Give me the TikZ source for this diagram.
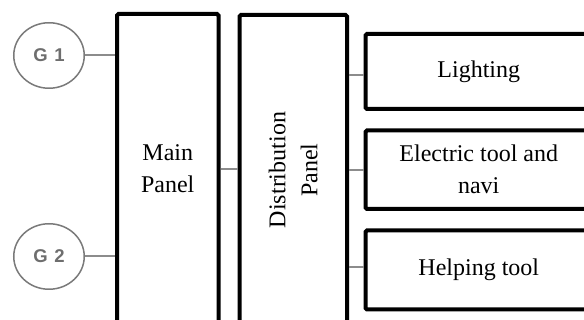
\documentclass[tikz,border=0pt]{standalone}
\usepackage{fontspec}
\setmainfont{Liberation Serif}
\newfontfamily\gfont{Liberation Sans}
\usetikzlibrary{shapes.geometric}
\definecolor{wiregray}{HTML}{8C8C8C}
\definecolor{circgray}{HTML}{7A7A7A}
\definecolor{gtext}{HTML}{6E6E6E}
\begin{document}
\begin{tikzpicture}[x=1pt,y=-1pt,
  panel/.style={draw=black, line width=4pt, rounded corners=1.5pt, inner sep=0pt,
    font=\fontsize{24}{32}\selectfont, align=center},
  gen/.style={ellipse, draw=circgray, line width=1.5pt, inner sep=0pt,
    minimum width=70.5pt, minimum height=65.5pt, text=gtext,
    font=\gfont\bfseries\fontsize{18.5}{20}\selectfont},
  wire/.style={draw=wiregray, line width=2pt}]
\useasboundingbox (0,0) rectangle (584,320);
\clip (0,0) rectangle (584,320);
\node[gen] (g1) at (49,55.5) {G\hspace{0.35em}1};
\node[gen] (g2) at (49,256.5) {G\hspace{0.35em}2};
\node[panel, minimum width=101.5pt, minimum height=310pt] (main) at (167.75,169) {Main\\Panel};
\node[panel, minimum width=107.5pt, minimum height=310pt] (dist) at (293.25,170) {};
\node[font=\fontsize{24}{32}\selectfont, align=center, rotate=90] (distlabel) at (dist.center) {Distribution\\Panel};
\node[panel, minimum width=226.5pt, minimum height=75pt] (light) at (478.75,71.5) {Lighting};
\node[panel, minimum width=226.5pt, minimum height=78.5pt] (elec) at (478.75,169.75) {Electric tool and\\navi};
\node[panel, minimum width=226.5pt, minimum height=79pt] (help) at (478.75,270) {Helping tool};
\draw[wire] (g1.east) -- (g1.east -| main.west);
\draw[wire] (g2.east) -- (g2.east -| main.west);
\draw[wire] (main.east) -- (main.east -| dist.west);
\draw[wire] ([yshift=-3.5pt]light.west -| dist.east) -- ([yshift=-3.5pt]light.west);
\draw[wire] (elec.west -| dist.east) -- (elec.west);
\draw[wire] ([yshift=3pt]help.west -| dist.east) -- ([yshift=3pt]help.west);
\end{tikzpicture}
\end{document}
